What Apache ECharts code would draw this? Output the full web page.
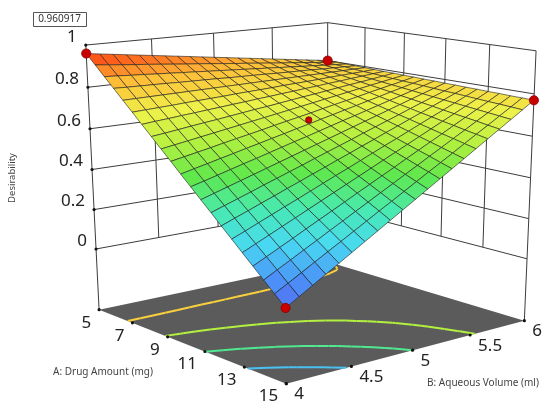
<!DOCTYPE html>
<html>
<head>
<meta charset="utf-8">
<script src="https://cdn.jsdelivr.net/npm/echarts@6/dist/echarts.min.js"></script>
<style>html,body{margin:0;padding:0;background:#fff}#c{width:550px;height:412px}</style>
</head>
<body>
<div id="c"></div>
<script>
// ---------------- data ----------------
const drugAmount = [5,5.5,6,6.5,7,7.5,8,8.5,9,9.5,10,10.5,11,11.5,12,12.5,13,13.5,14,14.5,15];
const aqueousVolume = [4,4.1,4.2,4.3,4.4,4.5,4.6,4.7,4.8,4.9,5,5.1,5.2,5.3,5.4,5.5,5.6,5.7,5.8,5.9,6];
// rows follow drugAmount, columns follow aqueousVolume
const desirability = [
[.960,.952,.944,.936,.928,.920,.912,.904,.896,.888,.880,.872,.864,.856,.848,.840,.832,.824,.816,.808,.800],
[.914,.908,.902,.896,.891,.885,.879,.873,.868,.862,.856,.850,.845,.839,.833,.827,.822,.816,.810,.804,.799],
[.867,.864,.860,.857,.853,.850,.846,.843,.839,.836,.832,.829,.825,.822,.818,.815,.811,.808,.804,.801,.797],
[.821,.819,.818,.817,.816,.814,.813,.812,.811,.809,.808,.807,.806,.804,.803,.802,.801,.799,.798,.797,.796],
[.774,.775,.776,.777,.778,.779,.780,.781,.782,.783,.784,.785,.786,.787,.788,.789,.790,.791,.792,.793,.794],
[.728,.731,.734,.737,.741,.744,.747,.750,.754,.757,.760,.763,.767,.770,.773,.776,.780,.783,.786,.789,.793],
[.681,.687,.692,.698,.703,.709,.714,.720,.725,.731,.736,.742,.747,.753,.758,.764,.769,.775,.780,.786,.791],
[.635,.642,.650,.658,.666,.673,.681,.689,.697,.704,.712,.720,.728,.735,.743,.751,.759,.766,.774,.782,.790],
[.588,.598,.608,.618,.628,.638,.648,.658,.668,.678,.688,.698,.708,.718,.728,.738,.748,.758,.768,.778,.788],
[.542,.554,.566,.578,.591,.603,.615,.627,.640,.652,.664,.676,.689,.701,.713,.725,.738,.750,.762,.774,.787],
[.495,.510,.524,.539,.553,.568,.582,.597,.611,.626,.640,.655,.669,.684,.698,.713,.727,.742,.756,.771,.785],
[.449,.465,.482,.499,.516,.532,.549,.566,.583,.599,.616,.633,.650,.666,.683,.700,.717,.733,.750,.767,.784],
[.402,.421,.440,.459,.478,.497,.516,.535,.554,.573,.592,.611,.630,.649,.668,.687,.706,.725,.744,.763,.782],
[.356,.377,.398,.419,.441,.462,.483,.504,.526,.547,.568,.589,.611,.632,.653,.674,.696,.717,.738,.759,.781],
[.309,.333,.356,.380,.403,.427,.450,.474,.497,.521,.544,.568,.591,.615,.638,.662,.685,.709,.732,.756,.779],
[.263,.288,.314,.340,.366,.391,.417,.443,.469,.494,.520,.546,.572,.597,.623,.649,.675,.700,.726,.752,.778],
[.216,.244,.272,.300,.328,.356,.384,.412,.440,.468,.496,.524,.552,.580,.608,.636,.664,.692,.720,.748,.776],
[.170,.200,.230,.260,.291,.321,.351,.381,.412,.442,.472,.502,.533,.563,.593,.623,.654,.684,.714,.744,.775],
[.123,.156,.188,.221,.253,.286,.318,.351,.383,.416,.448,.481,.513,.546,.578,.611,.643,.676,.708,.741,.773],
[.077,.111,.146,.181,.216,.250,.285,.320,.355,.389,.424,.459,.494,.528,.563,.598,.633,.667,.702,.737,.772],
[.030,.067,.104,.141,.178,.215,.252,.289,.326,.363,.400,.437,.474,.511,.548,.585,.622,.659,.696,.733,.770]
];
const drugTicks = [5,7,9,11,13,15];
const volumeTicks = [4,4.5,5,5.5,6];
const desirTicks = [0,0.2,0.4,0.6,0.8,1];
const contourLevels = [0.2,0.4,0.6,0.8];
// design points: drug amount, aqueous volume, desirability
const designDrug = [5,5,15,15,10];
const designVolume = [4,6,6,4,5];
const designDesir = [0.96,0.80,0.77,0.03,0.66];
const optimumText = '0.960917';
const titleA = 'A: Drug Amount (mg)';
const titleB = 'B: Aqueous Volume (ml)';
const titleZ = 'Desirability';

// ---------------- view (3D -> page projection) ----------------
const A0 = drugTicks[0], A1 = drugTicks[drugTicks.length-1];
const B0 = volumeTicks[0], B1 = volumeTicks[volumeTicks.length-1];
const FLOOR = -0.315;
// camera anchors: [u, v, z, pageX, pageY]
const anchors = [
 [0,0,FLOOR,97,309],[1,0,FLOOR,287,385],[1,1,FLOOR,525,321],[0,1,FLOOR,330,263],
 [0,0,1,87,46],[0,0,0.8,88.5,86.7],[0,0,0.6,89.5,126],[0,0,0.4,91.5,166],[0,0,0.2,93,205.7],[0,0,0,95,246],
 [0,1,1,327,24],[1,1,1,535,52],[1,1,0.6,532,132],[1,1,0.4,531,173],[1,1,0.2,529,213],[1,1,0,527,255],
 [0.2,0,FLOOR,135,324],[0.4,0,FLOOR,172,339],[0.6,0,FLOOR,210,354],[0.8,0,FLOOR,248,369],
 [1,.25,FLOOR,346,369],[1,.5,FLOOR,406,353],[1,.75,FLOOR,466,337],
 [0,.5,1,208,35],[0,.75,1,267,29],[.2,1,1,368,30],[.6,1,1,452,42],[.8,1,1,493,47]
];
function fitProjection(pts){
  const N=11, M=[], R=new Array(N).fill(0);
  for(let i=0;i<N;i++) M.push(new Array(N).fill(0));
  const add=(row,rhs)=>{for(let a=0;a<N;a++){R[a]+=row[a]*rhs;for(let b=0;b<N;b++)M[a][b]+=row[a]*row[b];}};
  pts.forEach(([u,v,w,X,Y])=>{
    const x=X/100,y=Y/100;
    add([u,v,w,1,0,0,0,0,-x*u,-x*v,-x*w],x);
    add([0,0,0,0,u,v,w,1,-y*u,-y*v,-y*w],y);
  });
  for(let c=0;c<N;c++){
    let p=c;
    for(let r=c+1;r<N;r++) if(Math.abs(M[r][c])>Math.abs(M[p][c])) p=r;
    [M[c],M[p]]=[M[p],M[c]]; [R[c],R[p]]=[R[p],R[c]];
    for(let r=0;r<N;r++){
      if(r===c) continue;
      const f=M[r][c]/M[c][c];
      for(let k=c;k<N;k++) M[r][k]-=f*M[c][k];
      R[r]-=f*R[c];
    }
  }
  return R.map((r,i)=>r/M[i][i]);
}
const PM = fitProjection(anchors);
function depth(a,b,z){const u=(a-A0)/(A1-A0),v=(b-B0)/(B1-B0);return PM[8]*u+PM[9]*v+PM[10]*z+1;}
function P(a,b,z){
  const u=(a-A0)/(A1-A0), v=(b-B0)/(B1-B0);
  const d=PM[8]*u+PM[9]*v+PM[10]*z+1;
  return [100*(PM[0]*u+PM[1]*v+PM[2]*z+PM[3])/d, 100*(PM[4]*u+PM[5]*v+PM[6]*z+PM[7])/d];
}

// ---------------- derived series data ----------------
const nA = drugAmount.length, nB = aqueousVolume.length;
const cells = [];
for(let i=0;i<nA-1;i++) for(let j=0;j<nB-1;j++){
  const zc=(desirability[i][j]+desirability[i+1][j]+desirability[i+1][j+1]+desirability[i][j+1])/4;
  const ac=(drugAmount[i]+drugAmount[i+1])/2, bc=(aqueousVolume[j]+aqueousVolume[j+1])/2;
  cells.push([i,j,zc,depth(ac,bc,zc)]);
}
cells.sort((p,q)=>q[3]-p[3]);

const contourSegs = [];
contourLevels.forEach(L=>{
  for(let i=0;i<nA-1;i++) for(let j=0;j<nB-1;j++){
    const c=[[i,j],[i+1,j],[i+1,j+1],[i,j+1]], pts=[];
    for(let k=0;k<4;k++){
      const [ia,jb]=c[k],[ia2,jb2]=c[(k+1)%4];
      const z0=desirability[ia][jb], z1=desirability[ia2][jb2];
      if((z0<L)!==(z1<L)){
        const t=(L-z0)/(z1-z0);
        pts.push([drugAmount[ia]+(drugAmount[ia2]-drugAmount[ia])*t, aqueousVolume[jb]+(aqueousVolume[jb2]-aqueousVolume[jb])*t]);
      }
    }
    for(let k=0;k+1<pts.length;k+=2) contourSegs.push([pts[k][0],pts[k][1],L,pts[k+1][0],pts[k+1][1]]);
  }
});

const wallLines = [];
desirTicks.forEach(z=>{ wallLines.push([A0,B0,z,A0,B1,z]); wallLines.push([A0,B1,z,A1,B1,z]); });
volumeTicks.slice(1,-1).forEach(b=>wallLines.push([A0,b,0,A0,b,1]));
drugTicks.slice(1,-1).forEach(a=>wallLines.push([a,B1,0,a,B1,1]));
wallLines.push([A0,B0,FLOOR,A0,B0,1]);
wallLines.push([A0,B1,FLOOR,A0,B1,1]);
wallLines.push([A1,B1,FLOOR,A1,B1,1]);

const tickDots = [];
desirTicks.forEach(z=>tickDots.push([A0,B0,z]));
drugTicks.forEach(a=>tickDots.push([a,B0,FLOOR]));
volumeTicks.forEach(b=>tickDots.push([A1,b,FLOOR]));

const tickLabels = [];
desirTicks.forEach(z=>tickLabels.push([A0,B0,z,String(z),'z']));
drugTicks.forEach(a=>tickLabels.push([a,B0,FLOOR,String(a),'a']));
volumeTicks.forEach(b=>tickLabels.push([A1,b,FLOOR,String(b),'b']));

const designPts = designDrug.map((a,k)=>[a,designVolume[k],designDesir[k],k===4?3.2:4.6]);

// ---------------- chart ----------------
const FONT = '"Noto Sans", "Open Sans", sans-serif';
const colorScale = ['#5560f2','#4c90f6','#48daf2','#48eab0','#60e84c','#b4f040','#eef24a','#ffbf38','#ff3a10'];
const chart = echarts.init(document.getElementById('c'));
chart.setOption({
  animation:false,
  backgroundColor:'#ffffff',
  grid:{left:0,right:0,top:0,bottom:0},
  xAxis:{type:'value',min:0,max:550,show:false},
  yAxis:{type:'value',min:0,max:412,inverse:true,show:false},
  visualMap:{type:'continuous',show:false,min:0,max:0.96,dimension:2,seriesIndex:[1,4],inRange:{color:colorScale}},
  graphic:[
    {type:'rect',left:33,top:12,shape:{width:53,height:14},style:{fill:'#fff',stroke:'#555',lineWidth:1}},
    {type:'text',x:59.5,y:19.5,style:{text:optimumText,font:'10px '+FONT,fill:'#333',align:'center',verticalAlign:'middle'}},
    {type:'text',x:12,y:178,rotation:Math.PI/2,style:{text:titleZ,font:'9.5px '+FONT,fill:'#444',align:'center',verticalAlign:'middle'}},
    {type:'text',x:103,y:372,style:{text:titleA,font:'10px '+FONT,fill:'#444',align:'center',verticalAlign:'middle'}},
    {type:'text',x:483,y:383,style:{text:titleB,font:'10px '+FONT,fill:'#444',align:'center',verticalAlign:'middle'}}
  ],
  series:[
    { // 0 floor
      type:'custom',z:1,data:[[A0,B0]],silent:true,
      renderItem:(p,api)=>({type:'polygon',shape:{points:[[A0,B0],[A1,B0],[A1,B1],[A0,B1]].map(([a,b])=>api.coord(P(a,b,FLOOR)))},style:{fill:'#5b5b5b'}})
    },
    { // 1 floor contours
      type:'custom',z:2,data:contourSegs,silent:true,
      renderItem:(p,api)=>{
        const p1=api.coord(P(api.value(0),api.value(1),FLOOR)), p2=api.coord(P(api.value(3),api.value(4),FLOOR));
        return {type:'line',shape:{x1:p1[0],y1:p1[1],x2:p2[0],y2:p2[1]},style:{stroke:api.visual('color'),lineWidth:2}};
      }
    },
    { // 2 walls and vertical axes
      type:'custom',z:3,data:wallLines,silent:true,
      renderItem:(p,api)=>{
        const p1=api.coord(P(api.value(0),api.value(1),api.value(2))), p2=api.coord(P(api.value(3),api.value(4),api.value(5)));
        return {type:'line',shape:{x1:p1[0],y1:p1[1],x2:p2[0],y2:p2[1]},style:{stroke:'#3c3c3c',lineWidth:1}};
      }
    },
    { // 3 tick dots
      type:'custom',z:4,data:tickDots,silent:true,
      renderItem:(p,api)=>{
        const c=api.coord(P(api.value(0),api.value(1),api.value(2)));
        return {type:'circle',shape:{cx:c[0],cy:c[1],r:1.6},style:{fill:'#111'}};
      }
    },
    { // 4 response surface
      type:'custom',z:5,data:cells,silent:true,
      renderItem:(p,api)=>{
        const i=api.value(0), j=api.value(1);
        const pts=[[i,j],[i+1,j],[i+1,j+1],[i,j+1]].map(([a,b])=>api.coord(P(drugAmount[a],aqueousVolume[b],desirability[a][b])));
        return {type:'polygon',shape:{points:pts},style:{fill:api.visual('color'),stroke:'rgba(28,28,28,0.85)',lineWidth:0.7}};
      }
    },
    { // 5 design points
      type:'custom',z:6,data:designPts,silent:true,
      renderItem:(p,api)=>{
        const c=api.coord(P(api.value(0),api.value(1),api.value(2)));
        return {type:'circle',shape:{cx:c[0],cy:c[1],r:api.value(3)},style:{fill:'#c80000',stroke:'#8a0000',lineWidth:0.8}};
      }
    },
    { // 6 tick labels
      type:'custom',z:7,data:tickLabels,silent:true,
      renderItem:(p,api)=>{
        const d=tickLabels[p.dataIndex];
        const c=api.coord(P(d[0],d[1],d[2]));
        let x,y,align;
        if(d[4]==='z'){x=c[0]-9;y=c[1]-8;align='right';}
        else if(d[4]==='a'){x=c[0]-8;y=c[1]+13;align='right';}
        else {x=c[0]+8;y=c[1]+11;align='left';}
        return {type:'text',x:x,y:y,style:{text:d[3],font:'17px '+FONT,fill:'#222',align:align,verticalAlign:'middle'}};
      }
    }
  ]
});
</script>
</body>
</html>
